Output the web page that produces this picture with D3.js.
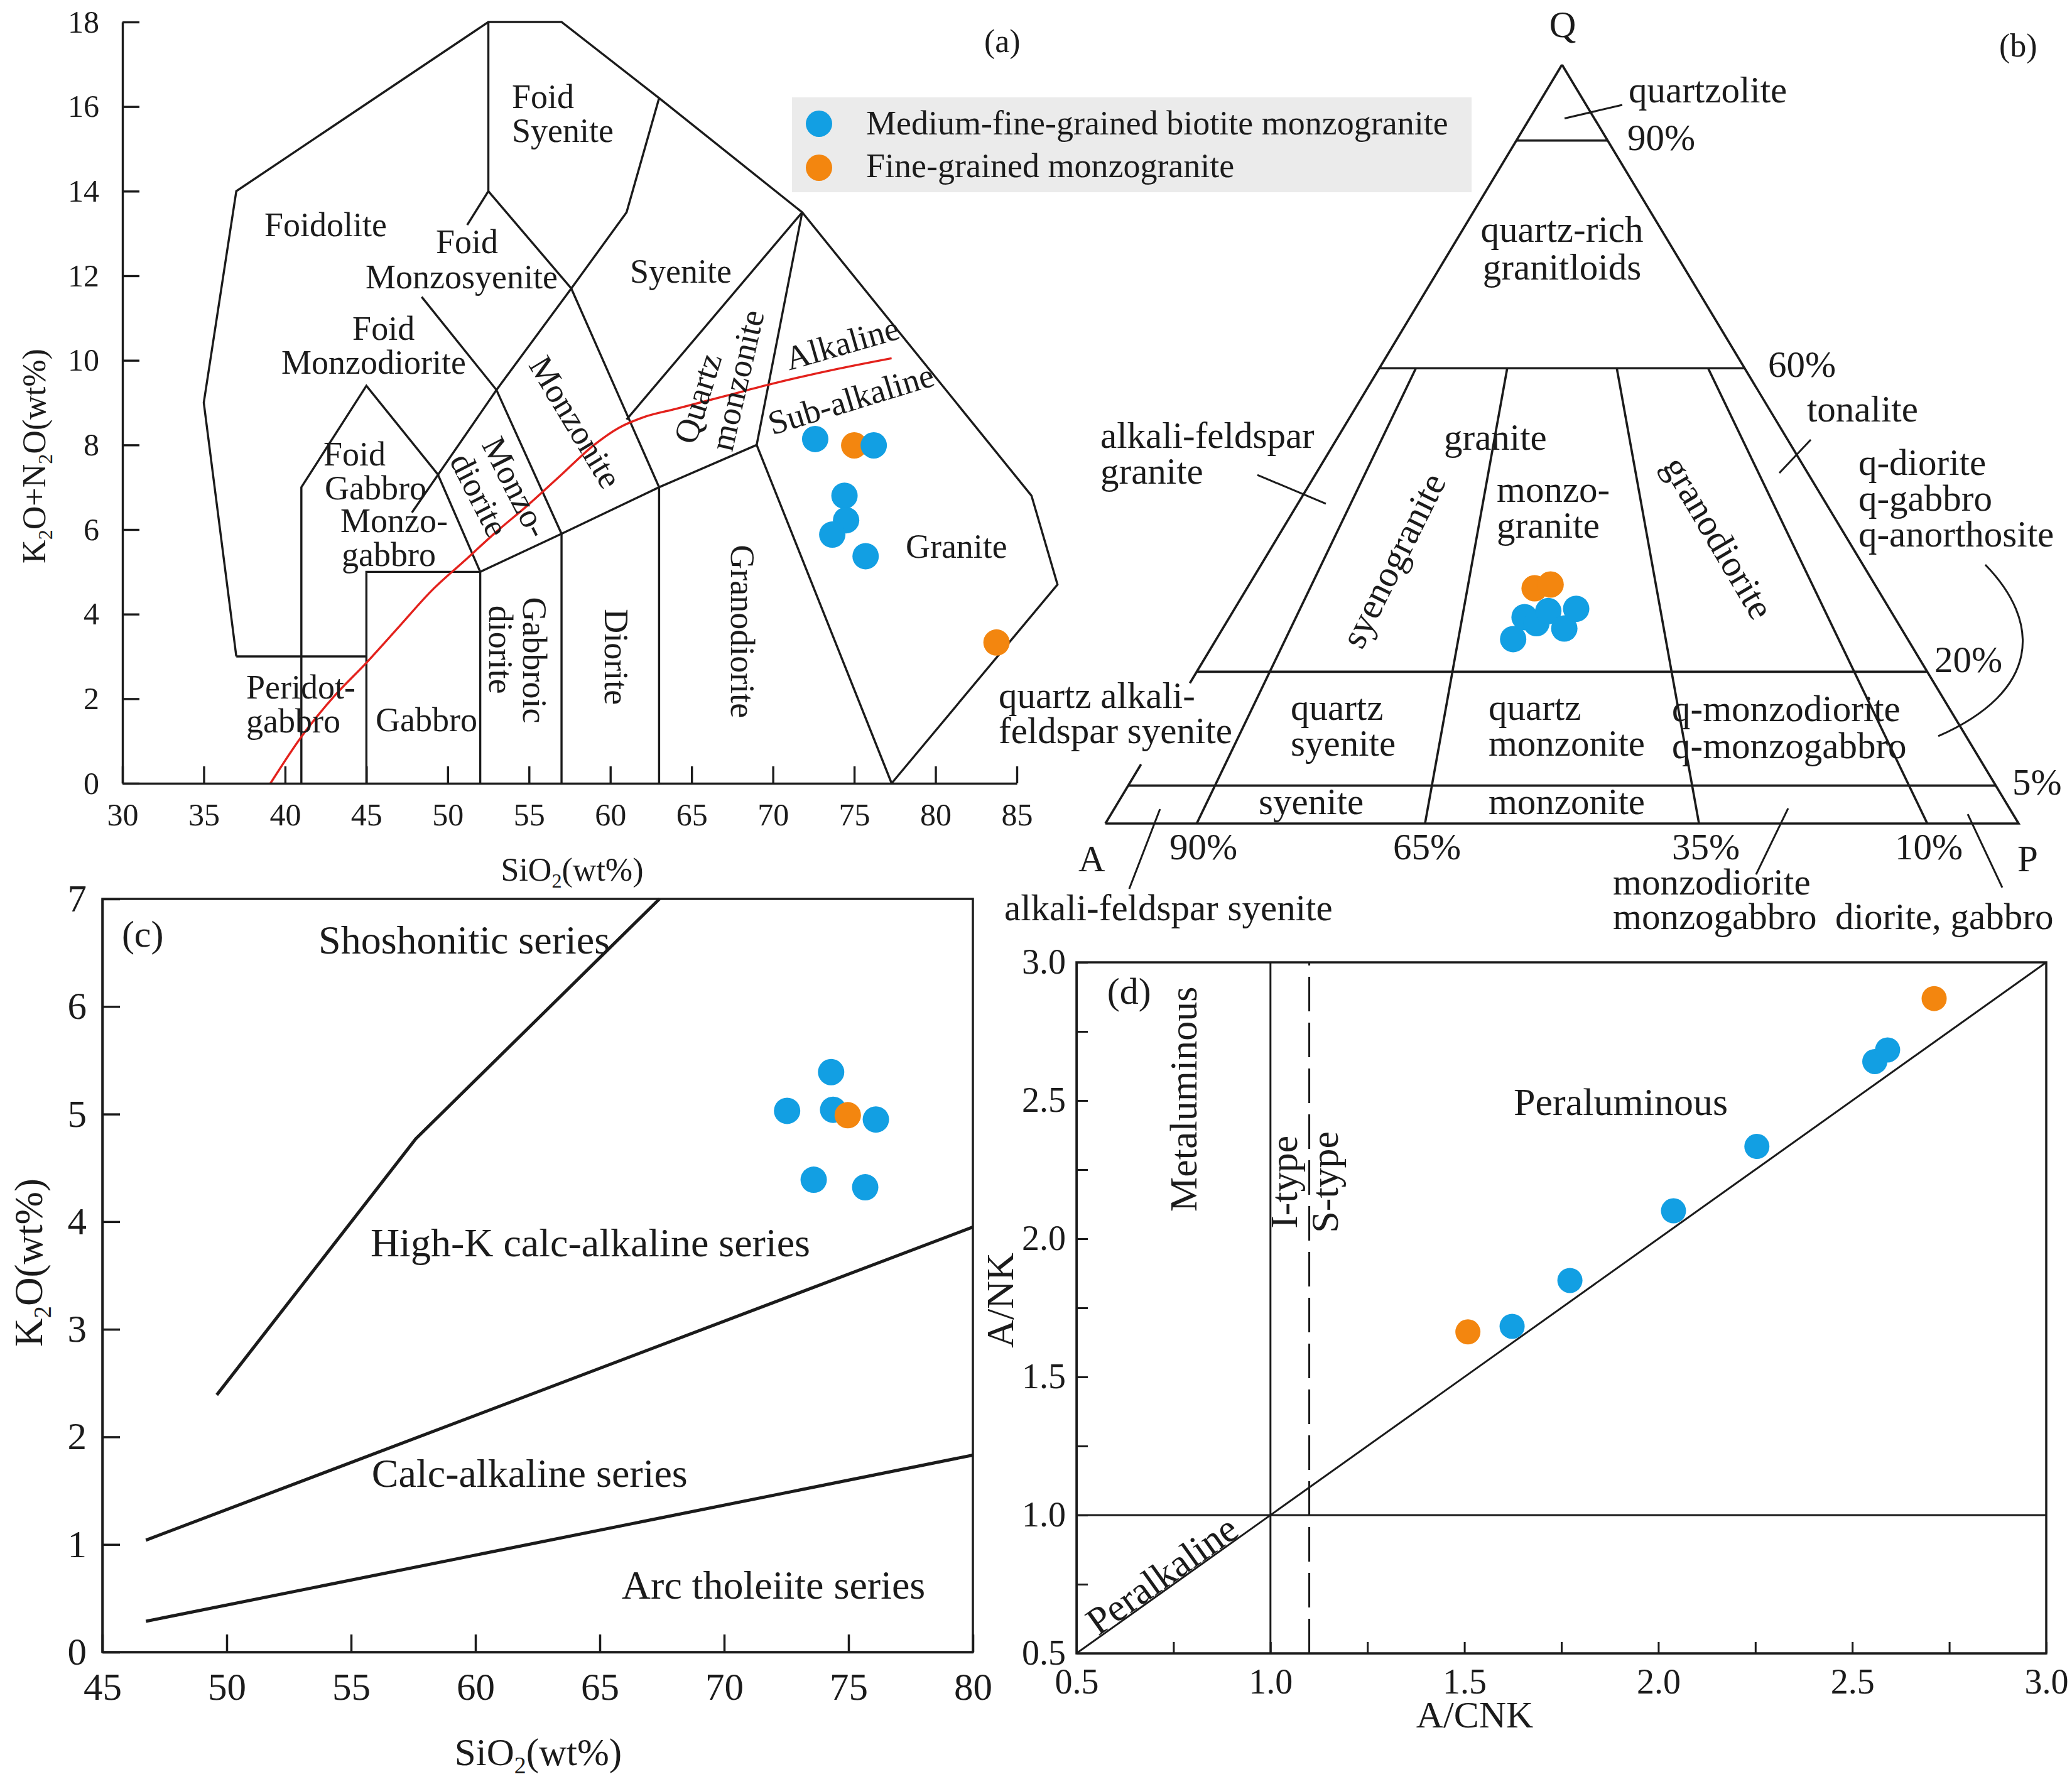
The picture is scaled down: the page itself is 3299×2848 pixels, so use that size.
<!DOCTYPE html>
<html>
<head>
<meta charset="utf-8">
<title>Granite classification diagrams</title>
<script src="https://cdn.jsdelivr.net/npm/d3@7/dist/d3.min.js"></script>
<style>
html,body{margin:0;padding:0;background:#fff;}
svg{display:block;}
</style>
</head>
<body>
<svg id="fig" width="3299" height="2848" viewBox="0 0 3299 2848"></svg>
<script>
// ================= DATA =================
const seriesNames = ["Medium-fine-grained biotite monzogranite", "Fine-grained monzogranite"];

// (a) TAS diagram: [SiO2, K2O+Na2O]
const tasXTicks = [30,35,40,45,50,55,60,65,70,75,80,85];
const tasYTicks = [0,2,4,6,8,10,12,14,16,18];
const tasMedium = [[72.6,8.14],[76.2,7.99],[74.4,6.80],[74.5,6.22],[73.65,5.88],[75.7,5.37]];
const tasFine = [[75.0,7.99],[83.75,3.33]];
const tasOutline = [[37,3],[35,9],[37,14],[52.5,18],[57,18],[63,16.2],[71.8,13.5],[85.9,6.8],[87.5,4.7],[77.3,0]];
const tasBoundaries = [
  [[37,3],[45,3]],
  [[41,0],[41,7],[45,9.4],[49.4,7.3],[52,5]],
  [[45,0],[45,5],[52,5],[57,5.9],[63,7],[69,8],[77.3,0]],
  [[52,0],[52,5]],
  [[57,0],[57,5.9]],
  [[63,0],[63,7]],
  [[69,8],[71.8,13.5]],
  [[47.8,6.4],[53,9.3],[57.6,11.7],[61,13.5],[63,16.2]],
  [[48.4,11.5],[53,9.3],[57,5.9]],
  [[51.2,13.2],[52.5,14],[57.6,11.7],[63,7]],
  [[52.5,14],[52.5,18]],
  [[61,8.6],[71.8,13.5]]
];
const tasAlkalineLine = [[39.1,0],[41,1.1],[43,2.05],[45,2.85],[47,3.7],[49,4.55],[51,5.25],[53,5.95],[55,6.6],[57,7.3],[59,8.0],[60.5,8.4],[62,8.65],[64,8.85],[67,9.15],[70,9.45],[74,9.8],[77.3,10.05]];

// (b) QAP diagram: [Q, A, P] (%)
const qapQLevels = [90,60,20,5];
const qapPRatios = [10,35,65,90];
const qapRatioLabels = ["90%","65%","35%","10%"];
const qapMedium = [[24.3,43.2,32.5],[27.2,40.5,32.3],[26.4,39.6,34.0],[28.0,37.5,34.5],[25.7,36.9,37.4],[28.3,34.3,37.4]];
const qapFine = [[31.0,37.5,31.5],[31.5,35.5,33.0]];

// (c) K2O vs SiO2
const k2oXTicks = [45,50,55,60,65,70,75,80];
const k2oYTicks = [0,1,2,3,4,5,6,7];
const k2oMedium = [[72.53,5.03],[74.30,5.39],[74.38,5.04],[76.1,4.95],[73.6,4.39],[75.67,4.32]];
const k2oFine = [[74.97,4.99]];
const k2oBoundaries = [
  [[49.6,2.39],[57.6,4.77],[67.4,7.0]],
  [[46.75,1.04],[80,3.95]],
  [[46.75,0.286],[80,1.83]]
];

// (d) A/NK vs A/CNK
const acnkTicks = [0.5,0.75,1.0,1.25,1.5,1.75,2.0,2.25,2.5,2.75,3.0];
const acnkMedium = [[1.623,1.683],[1.772,1.849],[2.039,2.101],[2.254,2.334],[2.558,2.641],[2.591,2.683]];
const acnkFine = [[1.509,1.663],[2.711,2.869]];
const acnkSolid = [ [[0.5,0.5],[3,3]], [[1,0.5],[1,3]], [[0.5,1],[3,1]] ];
const acnkDashed = [ [[1.1,0.5],[1.1,3]] ];

// ================= DRAWING =================
const svg = d3.select("#fig");
const SERIF = '"Liberation Serif","Times New Roman",Times,serif';
const INK = "#1b1b1b", BLUE = "#129FE3", ORANGE = "#F3860F", RED = "#E3211C";
const R = 21;

svg.append("rect").attr("width",3299).attr("height",2848).attr("fill","#fff");

function addText(g, x, y, str, size, opt = {}) {
  const t = g.append("text")
    .attr("transform", `translate(${x},${y})${opt.rot ? ` rotate(${opt.rot})` : ""}`)
    .attr("font-family", SERIF).attr("font-size", size)
    .attr("text-anchor", opt.anchor || "start").attr("fill", INK);
  if (opt.center) t.attr("dominant-baseline", "central");
  const parts = str.split(/(_\d)/).filter(s => s.length);
  let shifted = false;
  parts.forEach(p => {
    const sp = t.append("tspan");
    if (/^_\d$/.test(p)) {
      sp.attr("font-size", size*0.62).attr("dy", size*0.22).text(p.slice(1));
      shifted = true;
    } else {
      if (shifted) { sp.attr("dy", -size*0.22); shifted = false; }
      sp.text(p);
    }
  });
  return t;
}
function styleAxis(g, size, w) {
  g.attr("font-family", SERIF).attr("font-size", size).attr("color", INK);
  g.select(".domain").attr("stroke-width", w);
  g.selectAll(".tick line").attr("stroke-width", w);
  g.selectAll(".tick text").attr("fill", INK);
}
const fmtInt = d3.format("d");

// ---------- Panel (a) TAS ----------
const gA = svg.append("g");
const xa = d3.scaleLinear().domain([30,85]).range([195,1619]);
const ya = d3.scaleLinear().domain([0,18]).range([1247,35]);
const lineA = d3.line().x(d => xa(d[0])).y(d => ya(d[1]));

// legend
const legG = gA.append("g");
legG.append("rect").attr("x",1261).attr("y",155).attr("width",1082).attr("height",151).attr("fill","#ebebeb");
[BLUE, ORANGE].forEach((c,i) => {
  legG.append("circle").attr("cx",1304).attr("cy",197+i*70).attr("r",R).attr("fill",c);
  addText(legG, 1379, 214+i*68, seriesNames[i], 54);
});

gA.append("path").attr("d", lineA(tasOutline)).attr("fill","none").attr("stroke",INK).attr("stroke-width",3.4);
tasBoundaries.forEach(b => gA.append("path").attr("d", lineA(b)).attr("fill","none").attr("stroke",INK).attr("stroke-width",3.4));
gA.append("path").attr("d", lineA.curve(d3.curveMonotoneX)(tasAlkalineLine)).attr("fill","none").attr("stroke",RED).attr("stroke-width",3.4);
lineA.curve(d3.curveLinear);

const gax = gA.append("g").attr("transform",`translate(0,${ya(0)})`)
  .call(d3.axisBottom(xa).tickValues(tasXTicks).tickFormat(fmtInt).tickSize(-27).tickSizeOuter(0).tickPadding(31));
styleAxis(gax, 50, 3.4);
const gay = gA.append("g").attr("transform",`translate(${xa(30)},0)`)
  .call(d3.axisLeft(ya).tickValues(tasYTicks).tickFormat(fmtInt).tickSize(-27).tickSizeOuter(0).tickPadding(37));
styleAxis(gay, 50, 3.4);

const tasLabels = [
  ["Foidolite",38.73,12.94],["Foid",53.95,15.97],["Syenite",53.95,15.16],
  ["Foid",49.27,12.53],["Monzosyenite",44.95,11.70],["Syenite",61.21,11.84],
  ["Foid",44.14,10.48],["Monzodiorite",39.77,9.68],
  ["Foid",42.36,7.51],["Gabbro",42.44,6.71],["Monzo-",43.40,5.94],["gabbro",43.48,5.14],
  ["Peridot-",37.61,2.0],["gabbro",37.61,1.20],["Gabbro",45.57,1.23],["Granite",78.16,5.33]
];
tasLabels.forEach(([t,x,y]) => addText(gA, xa(x), ya(y), t, 54));
const tasRotLabels = [
  ["Alkaline",74.26,10.4,-16],["Sub-alkaline",74.8,9.08,-17],
  ["Quartz",65.38,9.10,-73],["monzonite",67.81,9.53,-77],
  ["Monzonite",57.85,8.54,59],["Monzo-",54.18,7.0,63],["diorite",51.94,6.82,63],
  ["Gabbroic",55.34,2.91,90],["diorite",53.25,3.16,90],["Diorite",60.36,2.99,90],["Granodiorite",68.12,3.59,90]
];
tasRotLabels.forEach(([t,x,y,r]) => addText(gA, xa(x), ya(y), t, 54, {anchor:"middle", center:true, rot:r}));
addText(gA, xa(82.99), ya(17.29), "(a)", 52);
addText(gA, 72, 726, "K_2O+N_2O(wt%)", 52, {anchor:"middle", rot:-90});
addText(gA, 911, 1402, "SiO_2(wt%)", 52, {anchor:"middle"});

gA.selectAll("circle.fine").data(tasFine).join("circle").attr("class","fine")
  .attr("cx",d=>xa(d[0])).attr("cy",d=>ya(d[1])).attr("r",R).attr("fill",ORANGE);
gA.selectAll("circle.med").data(tasMedium).join("circle").attr("class","med")
  .attr("cx",d=>xa(d[0])).attr("cy",d=>ya(d[1])).attr("r",R).attr("fill",BLUE);

// ---------- Panel (b) QAP ----------
const gB = svg.append("g");
const tu = d3.scaleLinear().domain([0,1]).range([1760,3214]);
const tv = d3.scaleLinear().domain([0,1]).range([1311,103]);
const lineB = d3.line().x(d => tu(d[0])).y(d => tv(d[1]));
const qapToUV = ([Q,A,P]) => { const s = Q+A+P; return [(P + Q/2)/s, Q/s]; };
const leftEdge = v => [v/2, v];
const bSeg = pts => gB.append("path").attr("d", lineB(pts)).attr("fill","none").attr("stroke",INK).attr("stroke-width",3.6);

bSeg([[0,0],[1,0],[0.5,1]]);
bSeg([leftEdge(0), leftEdge(0.078)]);
bSeg([leftEdge(0.185), leftEdge(1)]);
qapQLevels.forEach(q => { const v = q/100; bSeg([[v/2, v],[1 - v/2, v]]); });
qapPRatios.forEach(p => { const r = p/100; bSeg([[r,0],[0.3 + 0.4*r, 0.6]]); });

const qapLeaders = [
  [[0.5028,0.9292],[0.566,0.947]],
  [[0.1664,0.4594],[0.2414,0.4214]],
  [[0.738,0.4619],[0.7724,0.5058]],
  [[0.0598,0.019],[0.0261,-0.0861]],
  [[0.7476,0.0199],[0.7125,-0.0671]],
  [[0.9443,0.0124],[0.9821,-0.0844]]
];
qapLeaders.forEach(l => gB.append("path").attr("d", lineB(l)).attr("fill","none").attr("stroke",INK).attr("stroke-width",3));
const brace = [[0.9635,0.3411],[1.0248,0.2657],[1.0248,0.1747],[0.912,0.1151]];
const bp = d3.path();
bp.moveTo(tu(brace[0][0]), tv(brace[0][1]));
bp.bezierCurveTo(tu(brace[1][0]), tv(brace[1][1]), tu(brace[2][0]), tv(brace[2][1]), tu(brace[3][0]), tv(brace[3][1]));
gB.append("path").attr("d", bp.toString()).attr("fill","none").attr("stroke",INK).attr("stroke-width",3);

const qapLabels = [
  ["quartzolite",0.5729,0.9503],["90%",0.5715,0.8874],["60%",0.7256,0.5886],["tonalite",0.7682,0.5298],
  ["alkali-feldspar",-0.0055,0.495],["granite",-0.0055,0.4478],["granite",0.3707,0.4925],
  ["q-diorite",0.8246,0.4594],["q-gabbro",0.8246,0.4123],["q-anorthosite",0.8246,0.3651],
  ["monzo-",0.4285,0.4238],["granite",0.4285,0.3767],["20%",0.9078,0.1995],
  ["quartz",0.2029,0.1366],["syenite",0.2029,0.0894],["quartz",0.4195,0.1366],["monzonite",0.4195,0.0894],
  ["q-monzodiorite",0.6204,0.1349],["q-monzogabbro",0.6204,0.0861],["5%",0.9931,0.0381],
  ["syenite",0.1678,0.0124],["monzonite",0.4195,0.0124],
  ["A",-0.0296,-0.0629],["P",0.9986,-0.0629],
  ["monzodiorite",0.5557,-0.0935],["monzogabbro",0.5557,-0.1392],["diorite, gabbro",0.7992,-0.1392],
  ["quartz alkali-",-0.1169,0.1523],["feldspar syenite",-0.1169,0.106],["alkali-feldspar syenite",-0.1107,-0.1275]
];
qapLabels.forEach(([t,u,v]) => addText(gB, tu(u), tv(v), t, 59));
const ratioLabelU = [0.0702,0.315,0.6204,0.8645];
qapRatioLabels.forEach((t,i) => addText(gB, tu(ratioLabelU[i]), tv(-0.0472), t, 59));
[["Q",0.5007,1.0364],["quartz-rich",0.5,0.7666],["granitloids",0.5,0.7169]]
  .forEach(([t,u,v]) => addText(gB, tu(u), tv(v), t, 59, {anchor:"middle"}));
[["syenogranite",0.315,0.3469,-63.4],["granodiorite",0.6713,0.3767,59.5]]
  .forEach(([t,u,v,r]) => addText(gB, tu(u), tv(v), t, 59, {anchor:"middle", center:true, rot:r}));
addText(gB, tu(0.9787), tv(1.0108), "(b)", 52);

gB.selectAll("circle.med").data(qapMedium.map(qapToUV)).join("circle").attr("class","med")
  .attr("cx",d=>tu(d[0])).attr("cy",d=>tv(d[1])).attr("r",R).attr("fill",BLUE);
gB.selectAll("circle.fine").data(qapFine.map(qapToUV)).join("circle").attr("class","fine")
  .attr("cx",d=>tu(d[0])).attr("cy",d=>tv(d[1])).attr("r",R).attr("fill",ORANGE);

// ---------- Panel (c) K2O-SiO2 ----------
const gC = svg.append("g");
const xc = d3.scaleLinear().domain([45,80]).range([163,1549]);
const yc = d3.scaleLinear().domain([0,7]).range([2630,1431]);
const lineC = d3.line().x(d => xc(d[0])).y(d => yc(d[1]));
k2oBoundaries.forEach(b => gC.append("path").attr("d", lineC(b)).attr("fill","none").attr("stroke",INK).attr("stroke-width",5));
const gcx = gC.append("g").attr("transform",`translate(0,${yc(0)})`)
  .call(d3.axisBottom(xc).tickValues(k2oXTicks).tickFormat(fmtInt).tickSize(-28).tickSizeOuter(0).tickPadding(33));
styleAxis(gcx, 61, 3.5);
const gcy = gC.append("g").attr("transform",`translate(${xc(45)},0)`)
  .call(d3.axisLeft(yc).tickValues(k2oYTicks).tickFormat(fmtInt).tickSize(-28).tickSizeOuter(0).tickPadding(25));
styleAxis(gcy, 61, 3.5);
gC.append("rect").attr("x",xc(45)).attr("y",yc(7)).attr("width",xc(80)-xc(45)).attr("height",yc(0)-yc(7))
  .attr("fill","none").attr("stroke",INK).attr("stroke-width",3.5);
[["Shoshonitic series",53.69,6.49],["High-K calc-alkaline series",55.78,3.678],["Calc-alkaline series",55.83,1.535],["Arc tholeiite series",65.88,0.496]]
  .forEach(([t,x,y]) => addText(gC, xc(x), yc(y), t, 64));
addText(gC, xc(45.78), yc(6.556), "(c)", 60);
addText(gC, 67, 2010, "K_2O(wt%)", 63, {anchor:"middle", rot:-90});
addText(gC, 857, 2810, "SiO_2(wt%)", 61, {anchor:"middle"});
gC.selectAll("circle.med").data(k2oMedium).join("circle").attr("class","med")
  .attr("cx",d=>xc(d[0])).attr("cy",d=>yc(d[1])).attr("r",R).attr("fill",BLUE);
gC.selectAll("circle.fine").data(k2oFine).join("circle").attr("class","fine")
  .attr("cx",d=>xc(d[0])).attr("cy",d=>yc(d[1])).attr("r",R).attr("fill",ORANGE);

// ---------- Panel (d) A/NK - A/CNK ----------
const gD = svg.append("g");
const xd = d3.scaleLinear().domain([0.5,3]).range([1714,3258]);
const yd = d3.scaleLinear().domain([0.5,3]).range([2632,1532]);
const lineD = d3.line().x(d => xd(d[0])).y(d => yd(d[1]));
acnkSolid.forEach(b => gD.append("path").attr("d", lineD(b)).attr("fill","none").attr("stroke",INK).attr("stroke-width",3));
acnkDashed.forEach(b => gD.append("path").attr("d", lineD(b)).attr("fill","none").attr("stroke",INK).attr("stroke-width",3).attr("stroke-dasharray","55,18"));
const fmtD = d => (Math.abs(d*2 - Math.round(d*2)) < 1e-9) ? d.toFixed(1) : "";
const gdx = gD.append("g").attr("transform",`translate(0,${yd(0.5)})`)
  .call(d3.axisBottom(xd).tickValues(acnkTicks).tickFormat(fmtD).tickSize(-18).tickSizeOuter(0).tickPadding(24));
styleAxis(gdx, 56, 3);
const gdy = gD.append("g").attr("transform",`translate(${xd(0.5)},0)`)
  .call(d3.axisLeft(yd).tickValues(acnkTicks).tickFormat(fmtD).tickSize(-18).tickSizeOuter(0).tickPadding(17));
styleAxis(gdy, 56, 3);
gD.append("rect").attr("x",xd(0.5)).attr("y",yd(3)).attr("width",xd(3)-xd(0.5)).attr("height",yd(0.5)-yd(3))
  .attr("fill","none").attr("stroke",INK).attr("stroke-width",3.5);
addText(gD, xd(1.627), yd(2.448), "Peraluminous", 62);
[["Metaluminous",0.775,2.505,-90],["I-type",1.034,2.205,-90],["S-type",1.14,2.205,-90],["Peralkaline",0.72,0.784,-35.5]]
  .forEach(([t,x,y,r]) => addText(gD, xd(x), yd(y), t, 62, {anchor:"middle", center:true, rot:r}));
addText(gD, xd(0.579), yd(2.85), "(d)", 60);
addText(gD, 2348, 2750, "A/CNK", 60, {anchor:"middle"});
addText(gD, 1613, 2070, "A/NK", 62, {anchor:"middle", rot:-90});
gD.selectAll("circle.med").data(acnkMedium).join("circle").attr("class","med")
  .attr("cx",d=>xd(d[0])).attr("cy",d=>yd(d[1])).attr("r",20).attr("fill",BLUE);
gD.selectAll("circle.fine").data(acnkFine).join("circle").attr("class","fine")
  .attr("cx",d=>xd(d[0])).attr("cy",d=>yd(d[1])).attr("r",20).attr("fill",ORANGE);
</script>
</body>
</html>
